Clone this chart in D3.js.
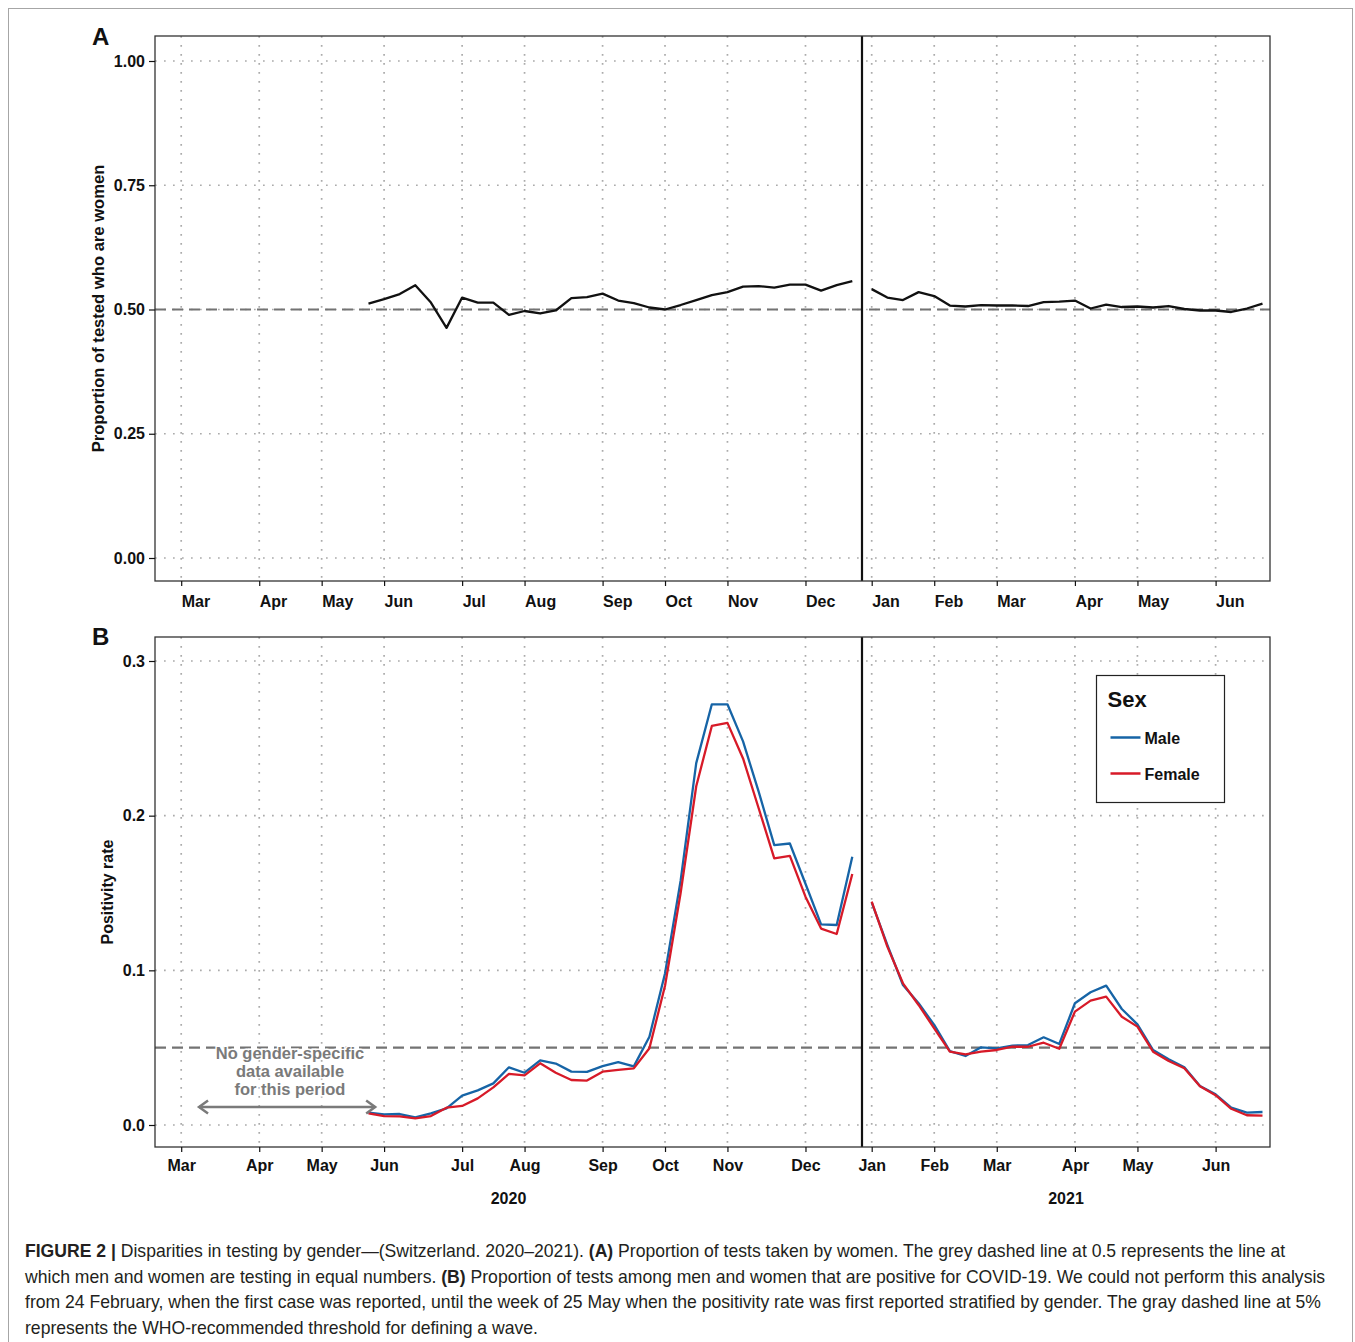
<!DOCTYPE html>
<meta charset="utf-8">
<style>
body { margin: 0; background: #fff; }
svg { display: block; font-family: "Liberation Sans", Arial, sans-serif; }
.tick text { font: bold 16px "Liberation Sans", Arial, sans-serif; fill: #111; }
.tick line { stroke: #111; stroke-width: 1.2; }
.grid line { stroke: #ababab; stroke-width: 1.7; stroke-dasharray: 1.7,7.3; }
.panel-box { fill: none; stroke: #333; stroke-width: 1.3; }
.ref { stroke: #737373; stroke-width: 2.2; stroke-dasharray: 11,6; }
.title-y { font: bold 16px "Liberation Sans", Arial, sans-serif; text-anchor: middle; fill: #111; }
.panel-letter { font: bold 24px "Liberation Sans", Arial, sans-serif; fill: #111; }
.year { font: bold 16px "Liberation Sans", Arial, sans-serif; text-anchor: middle; fill: #111; }
.caption { font-family: "Liberation Sans", Arial, sans-serif; fill: #231f20; white-space: pre; }
.note { font: bold 16.5px "Liberation Sans", Arial, sans-serif; fill: #7a7a7a; text-anchor: middle;
        stroke: #fff; stroke-width: 3; paint-order: stroke; }
.leg-title { font: bold 22px "Liberation Sans", Arial, sans-serif; fill: #111; }
.leg-text { font: bold 16px "Liberation Sans", Arial, sans-serif; fill: #111; }
</style>
<svg width="1355" height="1342"></svg>
<script src="https://d3js.org/d3.v7.min.js"></script>
<script>
// ---- data ----
var monthTicks = [
  new Date(2020, 2, 2), new Date(2020, 3, 6), new Date(2020, 4, 4), new Date(2020, 5, 1),
  new Date(2020, 6, 6), new Date(2020, 7, 3), new Date(2020, 8, 7), new Date(2020, 9, 5),
  new Date(2020, 10, 2), new Date(2020, 11, 7),
  new Date(2021, 0, 4), new Date(2021, 1, 1), new Date(2021, 2, 1), new Date(2021, 3, 5),
  new Date(2021, 4, 3), new Date(2021, 5, 7)
];
var years = ["2020", "2021"];
var sexes = ["Male", "Female"];

// weekly points (Mondays)
var weeks2020 = d3.timeMonday.range(new Date(2020, 4, 25), new Date(2020, 11, 29));
var weeks2021 = d3.timeMonday.range(new Date(2021, 0, 4), new Date(2021, 5, 29));

var womenShare2020 = [0.512,0.521,0.531,0.549,0.514,0.463,0.524,0.514,0.514,0.489,0.497,0.492,0.498,0.523,0.525,0.532,
                      0.518,0.513,0.504,0.500,0.509,0.519,0.529,0.535,0.546,0.547,0.544,0.550,0.550,0.538,0.549,0.557];
var womenShare2021 = [0.541,0.524,0.519,0.535,0.527,0.508,0.506,0.509,0.508,0.508,0.507,0.515,0.516,0.518,0.502,0.510,
                      0.505,0.506,0.504,0.507,0.501,0.498,0.498,0.495,0.502,0.512];

var male2020 = [0.0080,0.0069,0.0071,0.0050,0.0075,0.0108,0.0190,0.0224,0.0269,0.0373,0.0338,0.0418,0.0397,0.0345,0.0343,0.0381,
                0.0407,0.0379,0.0571,0.098,0.158,0.234,0.272,0.272,0.248,0.2155,0.181,0.182,0.156,0.1297,0.1293,0.1735];
var female2020 = [0.0075,0.0058,0.0056,0.0043,0.0058,0.0112,0.0123,0.0172,0.0243,0.0330,0.0321,0.0399,0.0338,0.0291,0.0287,0.0345,
                  0.0356,0.0366,0.0496,0.090,0.150,0.219,0.258,0.260,0.237,0.2048,0.1724,0.174,0.1476,0.127,0.1235,0.1623];
var male2021 = [0.144,0.1164,0.0905,0.0787,0.0647,0.0478,0.0446,0.0502,0.0496,0.0513,0.0517,0.0567,0.0524,0.0787,0.0858,0.0901,
                0.075,0.0651,0.0485,0.0425,0.0373,0.0252,0.0198,0.0112,0.0080,0.0084];
var female2021 = [0.1444,0.1153,0.0916,0.0776,0.0625,0.0474,0.0457,0.0474,0.0485,0.0506,0.0506,0.0532,0.0493,0.0733,0.0804,0.0830,
                  0.070,0.0636,0.0474,0.0414,0.0367,0.025,0.0193,0.0105,0.0063,0.0060];

var noteLines = ["No gender-specific", "data available", "for this period"];
var noDataPeriod = [new Date(2020, 2, 10), new Date(2020, 4, 28)];

var captionLines = [
  [["FIGURE 2 | ", true], ["Disparities in testing by gender\u2014(Switzerland. 2020\u20132021). ", false], ["(A)", true],
   [" Proportion of tests taken by women. The grey dashed line at 0.5 represents the line at", false]],
  [["which men and women are testing in equal numbers. ", false], ["(B)", true],
   [" Proportion of tests among men and women that are positive for COVID-19. We could not perform this analysis", false]],
  [["from 24 February, when the first case was reported, until the week of 25 May when the positivity rate was first reported stratified by gender. The gray dashed line at 5%", false]],
  [["represents the WHO-recommended threshold for defining a wave.", false]]
];

// ---- layout ----
var svg = d3.select("svg"),
    left = 155, right = 1270;

svg.append("rect").attr("x", 8.5).attr("y", 8.5).attr("width", 1344).attr("height", 1345)
  .attr("fill", "none").attr("stroke", "#a6a6a6").attr("stroke-width", 1);

// x: weekly time scale, with a small break at the turn of the year
var x = d3.scaleTime()
  .domain([new Date(2020, 2, 2), new Date(2020, 11, 28), new Date(2021, 0, 4), new Date(2021, 5, 28)])
  .range([181.2, 852.3, 871.7, 1262.5]);
var yearBreak = (x(new Date(2020, 11, 28)) + x(new Date(2021, 0, 4))) / 2;

var color = d3.scaleOrdinal().domain(sexes).range(["#1664a6", "#d71a28"]);

var line = function(y) {
  return d3.line().x(function(d) { return x(d[0]); }).y(function(d) { return y(d[1]); });
};

function panel(o) {
  var g = svg.append("g");
  // grid
  var grid = g.append("g").attr("class", "grid");
  grid.selectAll(".gx").data(monthTicks).enter().append("line")
    .attr("x1", function(d) { return x(d); }).attr("x2", function(d) { return x(d); })
    .attr("y1", o.top).attr("y2", o.bottom);
  grid.selectAll(".gy").data(o.ticks).enter().append("line")
    .attr("x1", left).attr("x2", right)
    .attr("y1", function(d) { return o.y(d); }).attr("y2", function(d) { return o.y(d); });
  // reference line
  g.append("line").attr("class", "ref")
    .attr("x1", left).attr("x2", right)
    .attr("y1", o.y(o.ref)).attr("y2", o.y(o.ref));
  // series
  o.series.forEach(function(s) {
    g.append("path")
      .datum(s.values)
      .attr("fill", "none")
      .attr("stroke", s.color)
      .attr("stroke-width", 2.3)
      .attr("stroke-linejoin", "round")
      .attr("d", line(o.y));
  });
  // year separator
  g.append("line").attr("x1", yearBreak).attr("x2", yearBreak)
    .attr("y1", o.top).attr("y2", o.bottom)
    .attr("stroke", "#111").attr("stroke-width", 2.2);
  g.append("rect").attr("class", "panel-box")
    .attr("x", left).attr("y", o.top).attr("width", right - left).attr("height", o.bottom - o.top);
  // axes
  var ax = g.append("g").attr("transform", "translate(0," + o.bottom + ")")
    .call(d3.axisBottom(x).tickValues(monthTicks).tickFormat(d3.timeFormat("%b"))
      .tickSize(5).tickPadding(o.xPad));
  ax.select(".domain").remove();
  ax.selectAll("text").attr("text-anchor", o.xAnchor);
  var ay = g.append("g").attr("transform", "translate(" + left + ",0)")
    .call(d3.axisLeft(o.y).tickValues(o.ticks).tickFormat(d3.format(o.fmt)).tickSize(6).tickPadding(4));
  ay.select(".domain").remove();
  // titles
  g.append("text").attr("class", "title-y")
    .attr("transform", "translate(" + o.titleX + "," + (o.top + o.bottom) / 2 + ") rotate(-90)")
    .style("font-size", o.titleSize + "px")
    .text(o.title);
  g.append("text").attr("class", "panel-letter").attr("x", 92).attr("y", o.letterY).text(o.letter);
  return g;
}

// ---- panel A ----
var yA = d3.scaleLinear().domain([0, 1]).range([558, 61]);
panel({
  top: 36, bottom: 581, y: yA, ticks: [0, 0.25, 0.5, 0.75, 1], fmt: ".2f", ref: 0.5,
  xPad: 9.4, xAnchor: "start", title: "Proportion of tested who are women", titleX: 104, titleSize: 16.6,
  letter: "A", letterY: 45,
  series: [
    { values: d3.zip(weeks2020, womenShare2020), color: "#111" },
    { values: d3.zip(weeks2021, womenShare2021), color: "#111" }
  ]
});

// ---- panel B ----
var yB = d3.scaleLinear().domain([0, 0.3]).range([1125, 661]);
var gB = panel({
  top: 637, bottom: 1147, y: yB, ticks: [0, 0.1, 0.2, 0.3], fmt: ".1f", ref: 0.05,
  xPad: 7.4, xAnchor: "middle", title: "Positivity rate", titleX: 113, titleSize: 16,
  letter: "B", letterY: 645,
  series: [
    { values: d3.zip(weeks2020, male2020), color: color("Male") },
    { values: d3.zip(weeks2020, female2020), color: color("Female") },
    { values: d3.zip(weeks2021, male2021), color: color("Male") },
    { values: d3.zip(weeks2021, female2021), color: color("Female") }
  ]
});

// year labels under panel B
svg.selectAll(".year").data(years).enter().append("text")
  .attr("class", "year")
  .attr("x", function(d, i) { return i === 0 ? (left + yearBreak) / 2 : (yearBreak + right) / 2; })
  .attr("y", 1204)
  .text(function(d) { return d; });

// annotation: no gender-specific data
var defs = svg.append("defs");
defs.append("marker").attr("id", "chev").attr("viewBox", "-10 -10 20 20")
  .attr("markerWidth", 20).attr("markerHeight", 20).attr("markerUnits", "userSpaceOnUse")
  .attr("refX", 0).attr("refY", 0).attr("orient", "auto-start-reverse")
  .append("path").attr("d", "M-9,-6.5L0,0L-9,6.5").attr("fill", "none")
  .attr("stroke", "#7a7a7a").attr("stroke-width", 2.5);
gB.append("line")
  .attr("x1", x(noDataPeriod[0])).attr("x2", x(noDataPeriod[1]))
  .attr("y1", yB(0.0116)).attr("y2", yB(0.0116))
  .attr("stroke", "#7a7a7a").attr("stroke-width", 2.5)
  .attr("marker-start", "url(#chev)").attr("marker-end", "url(#chev)");
gB.selectAll(".note").data(noteLines).enter().append("text")
  .attr("class", "note")
  .attr("x", 290)
  .attr("y", function(d, i) { return 1059 + i * 18; })
  .text(function(d) { return d; });

// legend
var leg = gB.append("g").attr("transform", "translate(1096.5,675.5)");
leg.append("rect").attr("width", 128).attr("height", 127)
  .attr("fill", "#fff").attr("stroke", "#222").attr("stroke-width", 1.2);
leg.append("text").attr("class", "leg-title").attr("x", 11).attr("y", 31).text("Sex");
var item = leg.selectAll(".item").data(sexes).enter().append("g")
  .attr("transform", function(d, i) { return "translate(14," + (62 + i * 36) + ")"; });
item.append("line").attr("x1", 0).attr("x2", 30)
  .attr("stroke", function(d) { return color(d); }).attr("stroke-width", 2.5);
item.append("text").attr("class", "leg-text").attr("x", 34).attr("y", 6).text(function(d) { return d; });

// caption
var cap = svg.append("g");
var capTexts = cap.selectAll(".caption").data(captionLines).enter().append("text")
  .attr("class", "caption")
  .attr("x", 25)
  .attr("y", function(d, i) { return 1257 + i * 25.5; })
  .style("font-size", "16px");
capTexts.selectAll("tspan").data(function(d) { return d; }).enter().append("tspan")
  .attr("font-weight", function(d) { return d[1] ? "bold" : "normal"; })
  .text(function(d) { return d[0]; });
// fit font size so the longest line reaches the right margin
var w3 = capTexts.nodes()[2].getComputedTextLength();
var fs = 16 * 1297 / w3;
capTexts.style("font-size", fs + "px");
</script>
